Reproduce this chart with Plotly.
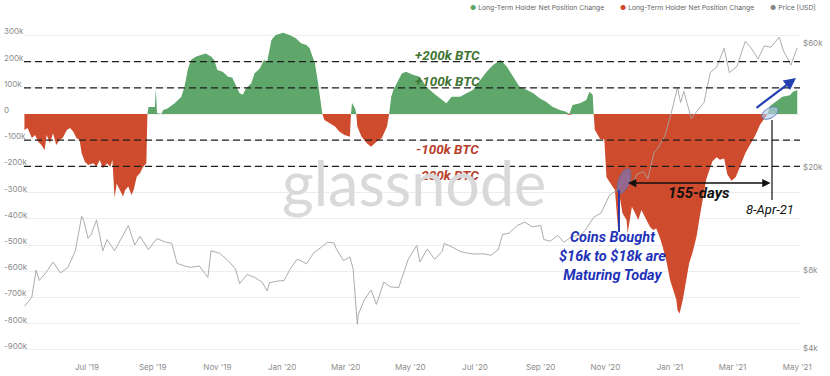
import math
import plotly.graph_objects as go

# ---------------- data ----------------
lth_dates = [
    "2019-05-03", "2019-05-06", "2019-05-10", "2019-05-13", "2019-05-16", "2019-05-19", "2019-05-22", "2019-05-24",
    "2019-05-27", "2019-05-30", "2019-06-02", "2019-06-05", "2019-06-08", "2019-06-12", "2019-06-15", "2019-06-18",
    "2019-06-21", "2019-06-24", "2019-06-26", "2019-06-29", "2019-07-02", "2019-07-07", "2019-07-10", "2019-07-13",
    "2019-07-16", "2019-07-20", "2019-07-23", "2019-07-25", "2019-07-27", "2019-07-29", "2019-08-01", "2019-08-04",
    "2019-08-06", "2019-08-09", "2019-08-12", "2019-08-14", "2019-08-17", "2019-08-20", "2019-08-23", "2019-08-26",
    "2019-08-27", "2019-08-28", "2019-08-31", "2019-09-03", "2019-09-04", "2019-09-05", "2019-09-09", "2019-09-11",
    "2019-09-15", "2019-09-22", "2019-09-28", "2019-10-01", "2019-10-04", "2019-10-07", "2019-10-12", "2019-10-17",
    "2019-10-21", "2019-10-26", "2019-10-29", "2019-11-01", "2019-11-06", "2019-11-11", "2019-11-15", "2019-11-19",
    "2019-11-22", "2019-11-25", "2019-11-28", "2019-12-03", "2019-12-06", "2019-12-11", "2019-12-15", "2019-12-18",
    "2019-12-22", "2019-12-26", "2020-01-02", "2020-01-08", "2020-01-14", "2020-01-19", "2020-01-24", "2020-01-27",
    "2020-02-01", "2020-02-04", "2020-02-07", "2020-02-08", "2020-02-10", "2020-02-15", "2020-02-20", "2020-02-24",
    "2020-02-29", "2020-03-05", "2020-03-06", "2020-03-07", "2020-03-10", "2020-03-11", "2020-03-12", "2020-03-16",
    "2020-03-21", "2020-03-25", "2020-03-30", "2020-04-04", "2020-04-09", "2020-04-11", "2020-04-13", "2020-04-15",
    "2020-04-18", "2020-04-23", "2020-04-27", "2020-05-04", "2020-05-10", "2020-05-16", "2020-05-23", "2020-05-29",
    "2020-06-04", "2020-06-09", "2020-06-17", "2020-06-23", "2020-06-29", "2020-07-06", "2020-07-12", "2020-07-18",
    "2020-07-25", "2020-07-31", "2020-08-06", "2020-08-12", "2020-08-19", "2020-08-25", "2020-08-31", "2020-09-06",
    "2020-09-12", "2020-09-19", "2020-09-25", "2020-09-28", "2020-10-01", "2020-10-08", "2020-10-14", "2020-10-17",
    "2020-10-20", "2020-10-21", "2020-10-22", "2020-10-27", "2020-10-31", "2020-11-02", "2020-11-05", "2020-11-10",
    "2020-11-13", "2020-11-14", "2020-11-17", "2020-11-21", "2020-11-22", "2020-11-26", "2020-11-29", "2020-12-02",
    "2020-12-05", "2020-12-10", "2020-12-13", "2020-12-16", "2020-12-19", "2020-12-22", "2020-12-25", "2020-12-29",
    "2021-01-01", "2021-01-04", "2021-01-07", "2021-01-08", "2021-01-10", "2021-01-13", "2021-01-16", "2021-01-19",
    "2021-01-22", "2021-01-26", "2021-01-29", "2021-02-01", "2021-02-04", "2021-02-07", "2021-02-10", "2021-02-14",
    "2021-02-17", "2021-02-21", "2021-02-24", "2021-02-28", "2021-03-04", "2021-03-08", "2021-03-13", "2021-03-17",
    "2021-03-22", "2021-03-27", "2021-04-01", "2021-04-03", "2021-04-05", "2021-04-12", "2021-04-17", "2021-04-24",
    "2021-04-27", "2021-05-01",
]
# thousands of BTC
lth_values_k = [
    -61, -53, -92, -80, -106, -118, -137, -80,
    -111, -73, -118, -99, -92, -61, -53, -67,
    -92, -99, -150, -182, -195, -188, -201, -176,
    -207, -188, -201, -176, -320, -265, -290, -315,
    -290, -277, -309, -290, -239, -226, -201, -188,
    0, 27, 28, 27, 98, 4, 0, 15,
    21, 42, 66, 104, 168, 206, 219, 225,
    231, 219, 206, 168, 161, 142, 139, 104,
    79, 73, 98, 117, 155, 174, 206, 200,
    282, 302, 310, 302, 289, 270, 263, 251,
    194, 117, 15, 0, -23, -36, -48, -67,
    -80, -87, 0, 42, 20, 0, -48, -87,
    -112, -125, -106, -93, -48, 0, 66, 92,
    115, 155, 161, 149, 142, 104, 79, 60,
    41, 66, 66, 79, 92, 130, 161, 187,
    206, 181, 142, 104, 92, 79, 60, 47,
    28, 15, 9, -4, 34, 41, 53, 85,
    73, 0, -60, -95, -97, -240, -260, -290,
    -440, -300, -378, -405, -455, -354, -378, -405,
    -366, -405, -430, -443, -437, -468, -506, -570,
    -634, -672, -710, -748, -761, -710, -634, -570,
    -532, -468, -392, -316, -252, -215, -180, -165,
    -175, -170, -230, -255, -240, -200, -150, -120,
    -85, -40, -10, 0, 30, 53, 66, 72,
    85, 92,
]

price_dates = [
    "2019-05-03", "2019-05-10", "2019-05-14", "2019-05-17", "2019-05-24", "2019-05-30", "2019-06-06", "2019-06-13",
    "2019-06-20", "2019-06-26", "2019-06-28", "2019-07-02", "2019-07-05", "2019-07-10", "2019-07-16", "2019-07-20",
    "2019-07-27", "2019-08-03", "2019-08-09", "2019-08-15", "2019-08-20", "2019-08-28", "2019-09-05", "2019-09-12",
    "2019-09-19", "2019-09-24", "2019-10-01", "2019-10-07", "2019-10-15", "2019-10-23", "2019-10-26", "2019-11-03",
    "2019-11-10", "2019-11-18", "2019-11-22", "2019-11-29", "2019-12-06", "2019-12-13", "2019-12-18", "2019-12-20",
    "2019-12-27", "2020-01-03", "2020-01-08", "2020-01-15", "2020-01-19", "2020-01-24", "2020-01-31", "2020-02-07",
    "2020-02-13", "2020-02-19", "2020-02-21", "2020-02-28", "2020-03-05", "2020-03-08", "2020-03-12", "2020-03-13",
    "2020-03-19", "2020-03-25", "2020-03-30", "2020-04-06", "2020-04-12", "2020-04-20", "2020-04-23", "2020-04-29",
    "2020-05-07", "2020-05-10", "2020-05-17", "2020-05-24", "2020-05-31", "2020-06-02", "2020-06-10", "2020-06-17",
    "2020-06-24", "2020-07-01", "2020-07-09", "2020-07-16", "2020-07-23", "2020-07-27", "2020-08-02", "2020-08-10",
    "2020-08-17", "2020-08-24", "2020-09-01", "2020-09-04", "2020-09-10", "2020-09-17", "2020-09-23", "2020-09-30",
    "2020-10-08", "2020-10-13", "2020-10-21", "2020-10-28", "2020-11-05", "2020-11-12", "2020-11-17", "2020-11-20",
    "2020-11-26", "2020-12-01", "2020-12-07", "2020-12-11", "2020-12-17", "2020-12-20", "2020-12-27", "2021-01-02",
    "2021-01-08", "2021-01-11", "2021-01-14", "2021-01-21", "2021-01-28", "2021-02-02", "2021-02-08", "2021-02-14",
    "2021-02-21", "2021-02-26", "2021-03-05", "2021-03-13", "2021-03-18", "2021-03-25", "2021-03-31", "2021-04-06",
    "2021-04-14", "2021-04-18", "2021-04-25", "2021-05-01",
]
price_values = [
    5800, 6300, 8000, 7300, 7900, 8600, 7800, 8200,
    9500, 12900, 12400, 10600, 11000, 12500, 9500, 10500,
    9500, 10800, 11900, 10000, 10800, 9600, 10600, 10300,
    10150, 8500, 8300, 8200, 8300, 7500, 9500, 9300,
    8800, 8100, 7100, 7700, 7500, 7200, 6650, 7150,
    7250, 7300, 8000, 8800, 8700, 8450, 9350, 9800,
    10250, 10200, 9700, 8700, 9000, 8100, 4950, 5400,
    6200, 6700, 5900, 7200, 6900, 6850, 7500, 8800,
    9950, 8600, 9650, 8800, 9450, 10150, 9800, 9450,
    9300, 9230, 9250, 9130, 9600, 11000, 11100, 11900,
    12250, 11750, 11900, 10500, 10350, 10900, 10250, 10780,
    10900, 11400, 12800, 13300, 15600, 16300, 17700, 18700,
    17100, 18800, 19200, 18000, 22800, 23500, 26300, 32200,
    40500, 35500, 39200, 30800, 33500, 35500, 46400, 48700,
    57500, 46300, 48900, 61200, 58000, 52300, 58800, 58000,
    63500, 56200, 49500, 57800,
]

left_tick_values = [300000, 200000, 100000, 0, -100000, -200000, -300000, -400000, -500000, -600000,
                    -700000, -800000, -900000]
left_tick_labels = ["300k", "200k", "100k", "0", "-100k", "-200k", "-300k", "-400k", "-500k", "-600k",
                    "-700k", "-800k", "-900k"]
right_tick_values = [4000, 8000, 20000, 60000]
right_tick_labels = ["$4k", "$8k", "$20k", "$60k"]
x_tick_values = ["2019-07-01", "2019-09-01", "2019-11-01", "2020-01-01", "2020-03-01", "2020-05-01",
                 "2020-07-01", "2020-09-01", "2020-11-01", "2021-01-01", "2021-03-01", "2021-05-01"]
x_tick_labels = ["Jul '19", "Sep '19", "Nov '19", "Jan '20", "Mar '20", "May '20",
                 "Jul '20", "Sep '20", "Nov '20", "Jan '21", "Mar '21", "May '21"]
ref_levels = [200000, 100000, -100000, -200000]
ref_labels = ["+200k BTC", "+100k BTC", "-100k BTC", "-200k BTC"]

# ---------------- styling ----------------
W, H = 830, 376
L, R, T, B = 24, 800, 25, 351
GREEN = "#5ea66a"
RED = "#cf4b2d"
PRICE = "#a3a3a3"
TICK_FONT = dict(family="Inter, Roboto, sans-serif", size=8, color="#8c8c8c")


def px(xp):
    return (xp - L) / (R - L)


def py(yp):
    return (B - yp) / (B - T)


lth_values = [v * 1000 for v in lth_values_k]
pos_vals = [v if v > 0 else 0 for v in lth_values]
neg_vals = [v if v < 0 else 0 for v in lth_values]

fig = go.Figure()
fig.add_trace(go.Scatter(x=lth_dates, y=pos_vals, mode="lines", line=dict(width=0, color=GREEN),
                         fill="tozeroy", fillcolor=GREEN, showlegend=False, hoverinfo="skip"))
fig.add_trace(go.Scatter(x=lth_dates, y=neg_vals, mode="lines", line=dict(width=0, color=RED),
                         fill="tozeroy", fillcolor=RED, showlegend=False, hoverinfo="skip"))
fig.add_trace(go.Scatter(x=price_dates, y=price_values, mode="lines", yaxis="y2",
                         line=dict(width=0.9, color=PRICE), showlegend=False))

shapes = []
for lv in ref_levels:
    shapes.append(dict(type="line", xref="paper", x0=0, x1=1, yref="y", y0=lv, y1=lv,
                       line=dict(color="#1e1e1e", width=1.3, dash="7px,4px"), layer="above"))


def ellipse_path(cx, cy, a, b, deg):
    th = math.radians(deg)
    pts = []
    for i in range(41):
        t = 2 * math.pi * i / 40
        ex, ey = a * math.cos(t), b * math.sin(t)
        x = cx + ex * math.cos(th) - ey * math.sin(th)
        y = cy + ex * math.sin(th) + ey * math.cos(th)
        pts.append((px(x), py(y)))
    return "M " + " L ".join(f"{x:.5f},{y:.5f}" for x, y in pts) + " Z"


shapes.append(dict(type="path", xref="paper", yref="paper", path=ellipse_path(624, 181, 5.5, 13, 20),
                   fillcolor="rgba(135,110,165,0.8)", line=dict(color="#6b6b95", width=1), layer="above"))
shapes.append(dict(type="path", xref="paper", yref="paper", path=ellipse_path(770, 113, 9, 5, -30),
                   fillcolor="rgba(185,205,235,0.65)", line=dict(color="#5b7fb8", width=1), layer="above"))
shapes.append(dict(type="line", xref="paper", yref="paper", x0=px(772), x1=px(772), y0=py(120), y1=py(200),
                   line=dict(color="#111111", width=1.2), layer="above"))
shapes.append(dict(type="line", xref="paper", yref="paper", x0=px(619), x1=px(619), y0=py(190), y1=py(232),
                   line=dict(color="#2a3aa8", width=2), layer="above"))

ann = []
# left tick labels (left aligned like the original)
for v, lab in zip(left_tick_values, left_tick_labels):
    ann.append(dict(xref="paper", yref="y", x=px(2), y=v, yshift=4, text=lab, showarrow=False,
                    xanchor="left", yanchor="middle", font=TICK_FONT))

for lv, lab in zip(ref_levels, ref_labels):
    col = "#3f7434" if lv > 0 else "#b8402b"
    ann.append(dict(xref="paper", yref="y", x=px(448), y=lv, yshift=7 if lv > 0 else -9,
                    text=f"<b><i>{lab}</i></b>", showarrow=False,
                    xanchor="center", yanchor="middle",
                    font=dict(family="Roboto, Arial, sans-serif", size=13.5, color=col)))

# watermark
ann.append(dict(xref="paper", yref="paper", x=px(414), y=py(182), text="glassnode", showarrow=False,
                xanchor="center", yanchor="middle",
                font=dict(family="Lato, sans-serif", size=61, color="#d9d9d9")))

# legend
leg_items = [(472, GREEN, "Long-Term Holder Net Position Change"),
             (622, RED, "Long-Term Holder Net Position Change"),
             (772, "#888888", "Price [USD]")]
for xp_, col, lab in leg_items:
    ann.append(dict(xref="paper", yref="paper", x=px(xp_ - 4), y=py(7),
                    text=f"<span style='color:{col}'>●</span> {lab}", showarrow=False,
                    xanchor="left", yanchor="middle",
                    font=dict(family="Inter, Roboto, sans-serif", size=6.8, color="#666666")))

# arrows
ann.append(dict(xref="paper", yref="paper", x=px(796), y=py(78), ax=-41, ay=31, axref="pixel", ayref="pixel",
                text="", showarrow=True, arrowhead=2, arrowsize=1.1, arrowwidth=2.2, arrowcolor="#2340b0"))
ann.append(dict(xref="paper", yref="paper", x=px(628), y=py(183), ax=144, ay=0, axref="pixel", ayref="pixel",
                text="", showarrow=True, arrowhead=2, startarrowhead=2, arrowside="end+start",
                arrowsize=1.1, arrowwidth=1.5, arrowcolor="#111111"))

ann.append(dict(xref="paper", yref="paper", x=px(699), y=py(193), text="<b><i>155-days</i></b>",
                showarrow=False, xanchor="center", yanchor="middle",
                font=dict(family="Roboto, Arial, sans-serif", size=15, color="#111111")))
ann.append(dict(xref="paper", yref="paper", x=px(770), y=py(209), text="<i>8-Apr-21</i>",
                showarrow=False, xanchor="center", yanchor="middle",
                font=dict(family="Roboto, Arial, sans-serif", size=13, color="#111111")))
ann.append(dict(xref="paper", yref="paper", x=px(612), y=py(256),
                text="<b><i>Coins Bought<br>$16k to $18k are<br>Maturing Today</i></b>",
                showarrow=False, xanchor="center", yanchor="middle", align="center",
                font=dict(family="Roboto, Arial, sans-serif", size=14.5, color="#1f33b8")))

y_top = (114 - T) / 26.2 * 100000
y_bot = -(B - 114) / 26.2 * 100000
log_top = math.log10(5000) + (323 - T) / 259
log_bot = math.log10(5000) - (B - 323) / 259

fig.update_layout(
    template="none",
    width=W, height=H,
    margin=dict(l=L, r=W - R, t=T, b=H - B, autoexpand=False),
    paper_bgcolor="white", plot_bgcolor="white",
    showlegend=False,
    xaxis=dict(type="date", range=["2019-05-02 14:00", "2021-05-03 14:00"], automargin=False,
               tickmode="array", tickvals=x_tick_values, ticktext=x_tick_labels,
               showgrid=False, zeroline=False, showline=False, ticks="",
               tickfont=TICK_FONT, ticklabelstandoff=10),
    yaxis=dict(range=[y_bot, y_top], tickmode="array", tickvals=left_tick_values, automargin=False,
               showticklabels=False, showgrid=True, gridcolor="#ededed", gridwidth=1,
               zeroline=False, showline=False, ticks=""),
    yaxis2=dict(type="log", range=[log_bot, log_top], overlaying="y", side="right", automargin=False,
                tickmode="array", tickvals=right_tick_values, ticktext=right_tick_labels,
                showgrid=False, zeroline=False, showline=False, ticks="",
                tickfont=TICK_FONT, ticklabelstandoff=2),
    shapes=shapes,
    annotations=ann,
)

# remove the browser's default 8px body margin so the figure sits at the page origin
fig.write_html("out.html", config={"displayModeBar": False},
               post_script="document.body.style.margin='0';document.body.style.overflow='hidden';")
